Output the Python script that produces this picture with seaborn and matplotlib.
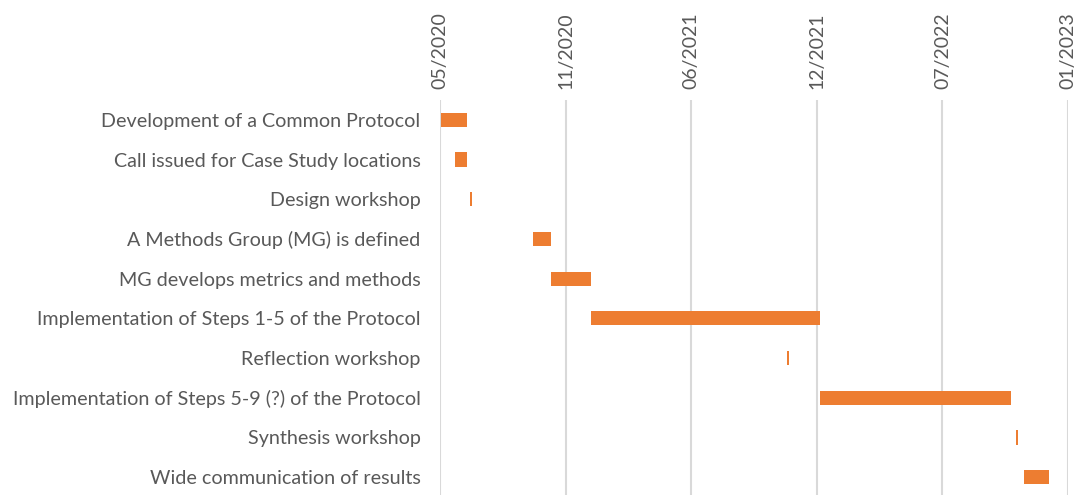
import matplotlib
matplotlib.use("Agg")
import matplotlib.pyplot as plt
import matplotlib.dates as mdates
import matplotlib.ticker as mticker
import numpy as np
import pandas as pd
import seaborn as sns
import datetime as dt

tasks = [
    "Development of a Common Protocol",
    "Call issued for Case Study locations",
    "Design workshop",
    "A Methods Group (MG) is defined",
    "MG develops metrics and methods",
    "Implementation of Steps 1-5 of the Protocol",
    "Reflection workshop",
    "Implementation of Steps 5-9 (?) of the Protocol",
    "Synthesis workshop",
    "Wide communication of results",
]
start_dates = [
    "2020-05-02", "2020-05-25", "2020-06-18", "2020-09-26", "2020-10-25",
    "2020-12-27", "2021-11-04", "2021-12-27", "2022-11-04", "2022-11-17",
]
durations = [42, 19, 3, 28, 63, 365, 3, 304, 3, 40]
axis_start = "2020-05-01"
tick_step_days = 200
n_ticks = 6

sns.set_theme(style="white")
plt.rcParams["font.family"] = ["Lato", "DejaVu Sans"]

df = pd.DataFrame({
    "task": tasks,
    "start": mdates.date2num(pd.to_datetime(start_dates).to_pydatetime()),
    "duration": durations,
})

fig = plt.figure(figsize=(10.79, 4.95), dpi=100)
ax = fig.add_axes([440 / 1079, -2 / 495, 628 / 1079, 397 / 495])

sns.barplot(data=df, x="duration", y="task", orient="h", color="#ED7D31",
            saturation=1, width=0.36, ax=ax, zorder=3)
for patch, s in zip(ax.patches, df["start"]):
    patch.set_x(s)
    patch.set_edgecolor("none")

x0 = mdates.date2num(dt.datetime.fromisoformat(axis_start))
ticks = [x0 + k * tick_step_days for k in range(n_ticks)]
ax.set_xlim(ticks[0], ticks[-1])
ax.xaxis.set_major_locator(mticker.FixedLocator(ticks))
ax.xaxis.set_major_formatter(mdates.DateFormatter("%m/%Y"))
ax.xaxis.tick_top()
ax.grid(axis="x", color="#d9d9d9", linewidth=1.5, zorder=0)
ax.set_axisbelow(True)
for s in ax.spines.values():
    s.set_visible(False)
ax.tick_params(axis="x", top=False, bottom=False, labeltop=True, labelbottom=False,
               labelrotation=90, labelsize=14, labelcolor="#595959", pad=2)
ax.tick_params(axis="y", left=False, labelsize=14.2, labelcolor="#595959", pad=8)
ax.set_xlabel("")
ax.set_ylabel("")

fig.savefig("out.png", dpi=100)
